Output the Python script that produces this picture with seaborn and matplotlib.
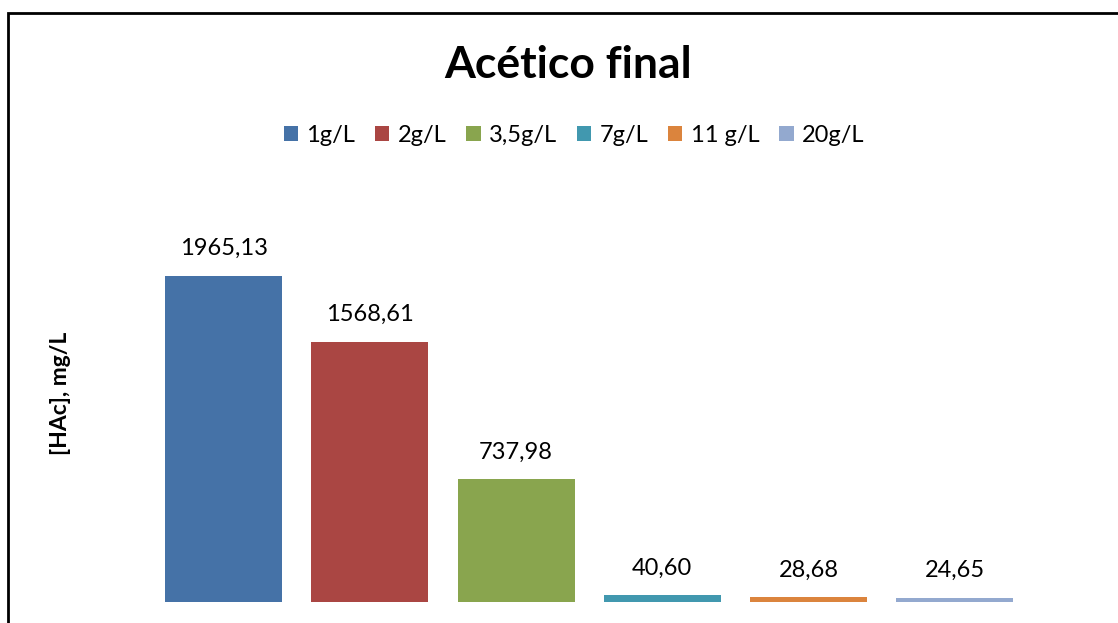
import matplotlib
matplotlib.use("Agg")
import matplotlib.pyplot as plt
import matplotlib.patches as mpatches
import seaborn as sns
import pandas as pd

# Final acetic acid concentration per initial load
series = ["1g/L", "2g/L", "3,5g/L", "7g/L", "11 g/L", "20g/L"]
values = [1965.13, 1568.61, 737.98, 40.60, 28.68, 24.65]
colors = ["#4572A7", "#AA4643", "#89A54E", "#4198AF", "#DB843D", "#93A9CF"]

title = "Acético final"
ylabel = "[HAc], mg/L"

sns.set_theme(style="white")
plt.rcParams["font.family"] = ["Lato", "DejaVu Sans"]
plt.rcParams["text.color"] = "black"

df = pd.DataFrame({"serie": series, "valor": values})

W, H = 1118, 623
fig = plt.figure(figsize=(W / 100, H / 100), dpi=100)
ax = fig.add_axes([150.4 / W, 1 - 602 / H, 877.6 / W, (602 - 187) / H])

sns.barplot(data=df, x="serie", y="valor", hue="serie", palette=colors,
            dodge=False, width=0.8, ax=ax, legend=False, saturation=1,
            edgecolor="none")

ax.set_xlim(-0.5, 5.5)
ax.set_ylim(0, 2500)
ax.axis("off")

for cont in ax.containers:
    labs = [f"{b.get_height():.2f}".replace(".", ",") for b in cont]
    ax.bar_label(cont, labels=labs, padding=12, fontsize=17, color="black")

fig.text(568 / W, 1 - 65 / H, title, ha="center", va="center",
         fontsize=32, fontweight="bold", color="black")
fig.text(61 / W, 1 - 393 / H, ylabel, ha="center", va="center",
         rotation=90, fontsize=16.5, fontweight="bold", color="black")

handles = [mpatches.Patch(facecolor=c, edgecolor="none") for c in colors]
fig.legend(handles, series, loc="center", bbox_to_anchor=(574 / W, 1 - 135 / H),
           ncol=6, frameon=False, fontsize=17, handlelength=0.6, handleheight=0.6,
           handletextpad=0.35, columnspacing=0.85, labelcolor="black")

# Chart frame
fig.patches.append(mpatches.Rectangle((8 / W, -0.1), 1.2, 1 - 13 / H + 0.1,
                                      transform=fig.transFigure, fill=False,
                                      edgecolor="black", linewidth=2))

fig.savefig("out.png", dpi=100)
